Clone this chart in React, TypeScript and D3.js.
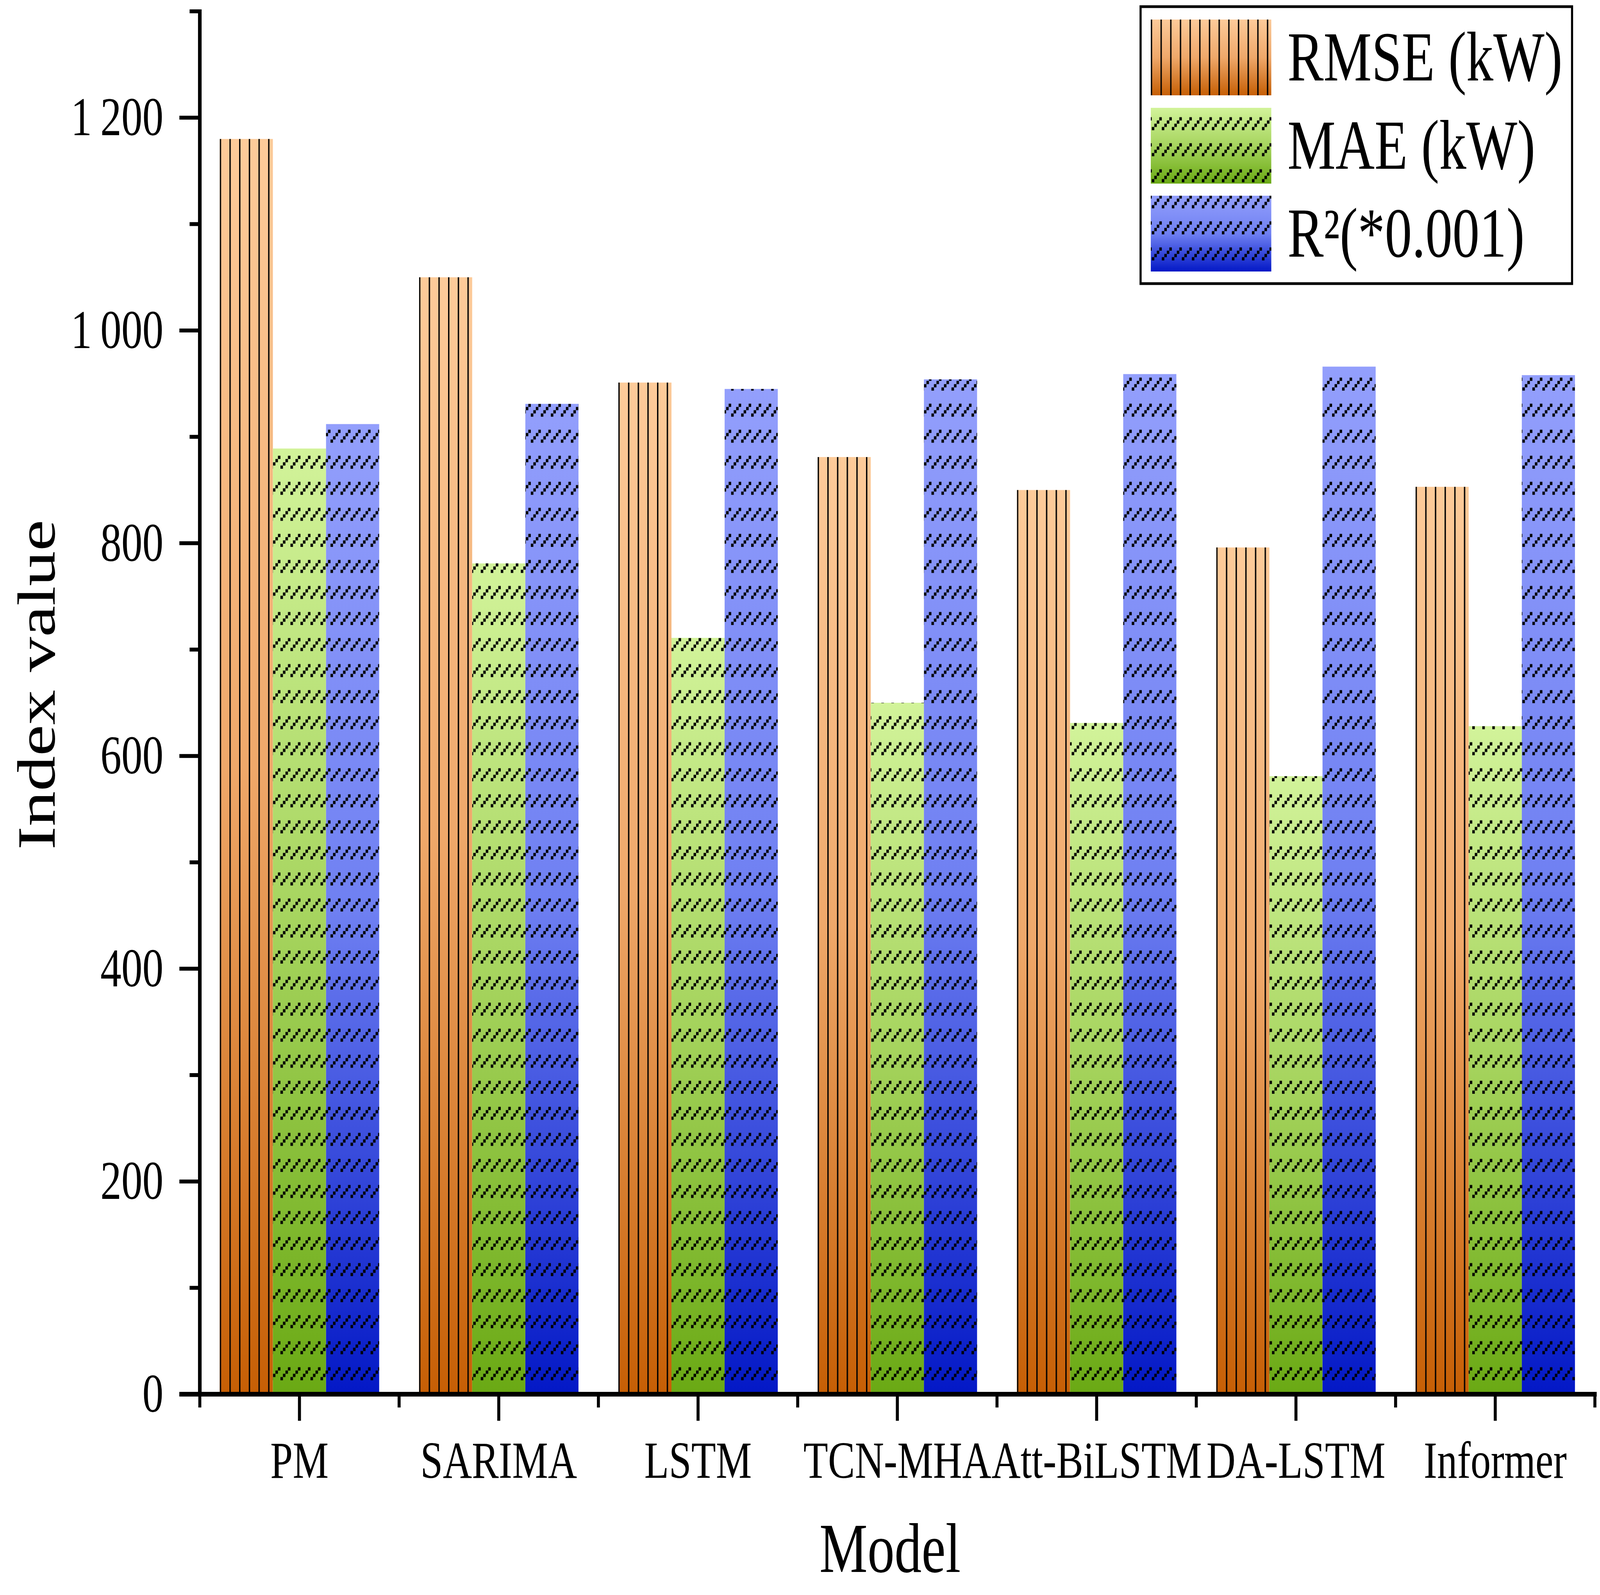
import React from "react";
import * as d3 from "d3";

// chart values
const categories = ["PM", "SARIMA", "LSTM", "TCN-MHA", "Att-BiLSTM", "DA-LSTM", "Informer"];
const rmse = [1180, 1050, 951, 881, 850, 796, 853];
const mae = [889, 781, 711, 650, 631, 581, 628];
const r2 = [912, 931, 945, 954, 959, 966, 958];
const seriesNames = ["RMSE (kW)", "MAE (kW)", "R\u00b2(*0.001)"];
const majorTicks = [0, 200, 400, 600, 800, 1000, 1200];
const minorTicks = [100, 300, 500, 700, 900, 1100, 1300];

const W = 5325;
const H = 4083;
const FONT = "'Liberation Serif', 'Times New Roman', serif";

const gradients = [
  ["#FDCB9A", "#EFA86A", "#C65F05"],
  ["#D2F39A", "#A6D45E", "#6AA914"],
  ["#939FFC", "#6F80F2", "#0318C6"],
];

const App: React.FC = () => {
  const series = [rmse, mae, r2];
  const x0 = 665;
  const x1 = 5308;
  const yBase = 3569;

  const x = d3.scaleBand<string>().domain(categories).range([x0, x1]).padding(0);
  const bw = x.bandwidth();
  const xs = d3
    .scaleBand<number>()
    .domain([0, 1, 2])
    .range([bw * 0.1, bw * 0.9])
    .padding(0);
  const y = d3.scaleLinear().domain([0, 1300]).range([yBase, 29]);

  const fmt = d3
    .formatLocale({ decimal: ".", thousands: "\u2009", grouping: [3], currency: ["", ""] })
    .format(",");

  const u = 33.333 / 4;
  const majorLen = 68;
  const minorLen = 34;

  // legend geometry
  const lgX = 3830;
  const lgW = 401;
  const lgH = 194;
  const lgY = [50, 276, 501];

  // the window may be narrower than the reference, so the drawing is fitted to it
  return (
    <svg
      viewBox={`0 0 ${W} ${H}`}
      preserveAspectRatio="none"
      style={{
        position: "absolute",
        left: 0,
        top: 0,
        width: "100vw",
        height: "100vh",
        background: "#fff",
        display: "block",
      }}
      fontFamily={FONT}
    >
      <defs>
        {gradients.map((g, i) => (
          <linearGradient key={i} id={`grad-${i}`} x1="0" y1="0" x2="0" y2="1">
            <stop offset="0%" stopColor={g[0]} />
            <stop offset="50%" stopColor={g[1]} />
            <stop offset="100%" stopColor={g[2]} />
          </linearGradient>
        ))}
        <pattern id="dash" patternUnits="userSpaceOnUse" x={0} y={0} width={33.333} height={66.667}>
          {[0, 1, 2, 3].map((c) => (
            <rect key={c} x={c * u} y={33.333 + (3 - c) * u} width={u} height={u} fill="#000" />
          ))}
        </pattern>
        {categories.map((c, i) => (
          <pattern
            key={c}
            id={`vl-${i}`}
            patternUnits="userSpaceOnUse"
            x={(x(c) as number) + (xs(0) as number)}
            y={0}
            width={32.2}
            height={20}
          >
            <rect x={0} y={0} width={4.5} height={20} fill="#000" />
          </pattern>
        ))}
        <pattern id="vl-legend" patternUnits="userSpaceOnUse" x={lgX} y={0} width={32.2} height={20}>
          <rect x={0} y={0} width={4.5} height={20} fill="#000" />
        </pattern>
      </defs>

      <rect x={0} y={0} width={W} height={H} fill="#fff" />

      {/* bars */}
      {categories.map((c, i) => (
        <g key={c}>
          {series.map((s, k) => {
            const bx = (x(c) as number) + (xs(k) as number);
            const by = y(s[i]);
            const bh = yBase - by;
            return (
              <g key={k}>
                <rect x={bx} y={by} width={xs.bandwidth()} height={bh} fill={`url(#grad-${k})`} />
                <rect
                  x={bx}
                  y={by}
                  width={xs.bandwidth()}
                  height={bh}
                  fill={k === 0 ? `url(#vl-${i})` : "url(#dash)"}
                />
              </g>
            );
          })}
        </g>
      ))}

      {/* y axis */}
      <line x1={x0} x2={x0} y1={y(1300) - 5} y2={yBase + 6} stroke="#000" strokeWidth={12} />
      {majorTicks.map((t) => (
        <g key={t}>
          <line x1={x0 - majorLen} x2={x0} y1={y(t)} y2={y(t)} stroke="#000" strokeWidth={10} />
          <text x={544} y={y(t) + 45} fontSize={140} textAnchor="end" fill="#000">
            {fmt(t)}
          </text>
        </g>
      ))}
      {minorTicks.map((t) => (
        <line key={t} x1={x0 - minorLen} x2={x0} y1={y(t)} y2={y(t)} stroke="#000" strokeWidth={10} />
      ))}

      {/* x axis */}
      <line x1={x0 - majorLen} x2={x1 + 6} y1={yBase} y2={yBase} stroke="#000" strokeWidth={12} />
      {categories.map((c) => {
        const cx = (x(c) as number) + bw / 2;
        return (
          <g key={c}>
            <line x1={cx} x2={cx} y1={yBase} y2={yBase + majorLen} stroke="#000" strokeWidth={10} />
            <text x={cx} y={3783} fontSize={134} textAnchor="middle" fill="#000">
              {c}
            </text>
          </g>
        );
      })}
      {d3.range(categories.length + 1).map((j) => {
        const bx = x0 + j * bw;
        return <line key={j} x1={bx} x2={bx} y1={yBase} y2={yBase + minorLen} stroke="#000" strokeWidth={10} />;
      })}

      {/* axis titles */}
      <text x={2962} y={4024} fontSize={180} textAnchor="middle" fill="#000">
        Model
      </text>
      <text
        transform={`translate(182,1753) rotate(-90)`}
        fontSize={180}
        textAnchor="middle"
        fill="#000"
      >
        Index value
      </text>

      {/* legend */}
      <rect x={3796} y={17} width={1436} height={709} fill="#fff" stroke="#000" strokeWidth={7} />
      {seriesNames.map((name, k) => (
        <g key={name}>
          <rect x={lgX} y={lgY[k]} width={lgW} height={lgH} fill={`url(#grad-${k})`} />
          <rect
            x={lgX}
            y={lgY[k]}
            width={lgW}
            height={lgH}
            fill={k === 0 ? "url(#vl-legend)" : "url(#dash)"}
          />
          <text x={4285} y={lgY[k] + lgH / 2 + 59} fontSize={180} fill="#000">
            {name}
          </text>
        </g>
      ))}
    </svg>
  );
};

export default App;
